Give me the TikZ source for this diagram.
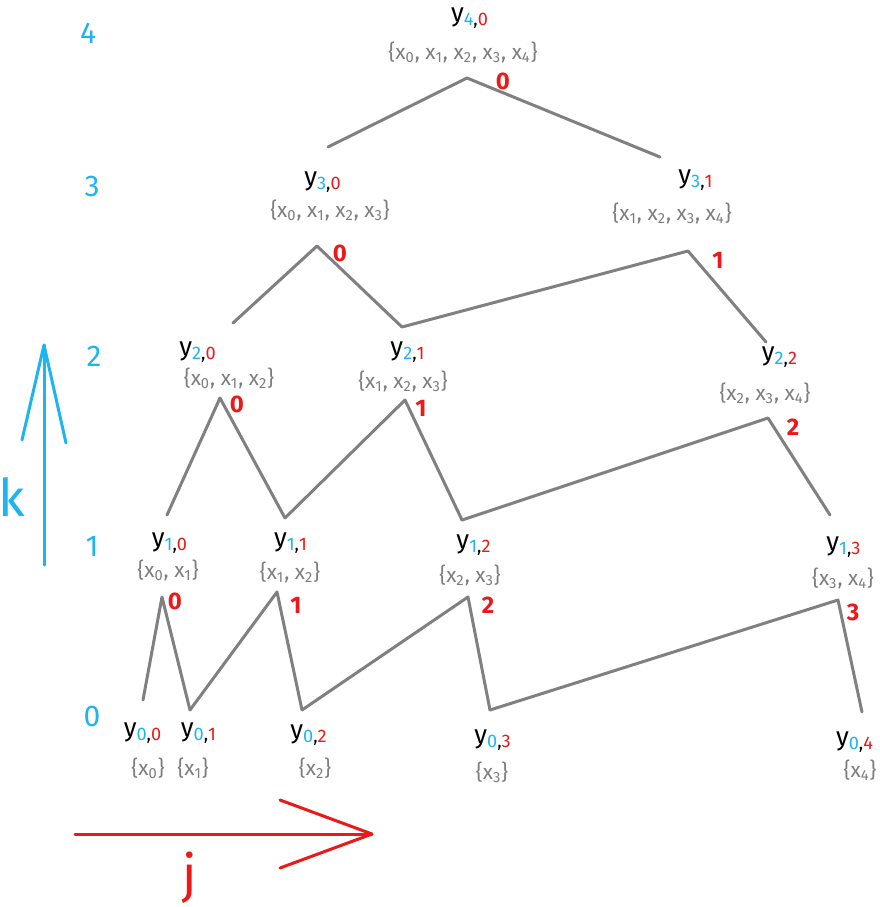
\documentclass[tikz,border=0pt]{standalone}
\usepackage{fontspec}
\setmainfont{Fira Sans}
\usetikzlibrary{calc}
\definecolor{kc}{RGB}{30,180,240}
\definecolor{jc}{RGB}{235,25,25}
\definecolor{edgec}{RGB}{128,128,128}
\definecolor{setc}{RGB}{125,125,125}
\newcommand{\ylab}[2]{y\textsubscript{\textcolor{kc}{#1},\textcolor{jc}{#2}}}
\newcommand{\xs}[1]{x\textsubscript{#1}}
\begin{document}
\begin{tikzpicture}[x=0.5pt,y=-0.5pt,
  ylabel/.style={inner sep=0pt,font=\fontsize{13}{13}\selectfont},
  setlabel/.style={inner sep=0pt,text=setc,font=\fontsize{10.5}{10.5}\selectfont},
  idx/.style={inner sep=0pt,text=jc,font=\fontsize{12}{12}\selectfont\bfseries},
  lvl/.style={inner sep=0pt,text=kc,font=\fontsize{15}{15}\selectfont},
  link/.style={draw=edgec,line width=1.5pt,line join=round,line cap=round},
  axisk/.style={draw=kc,line width=1.5pt,line cap=round,line join=round},
  axisj/.style={draw=jc,line width=1.5pt,line cap=round,line join=round},
  bigletter/.style={inner sep=0pt,font=\fontsize{26}{26}\selectfont},
]
\useasboundingbox (0,0) rectangle (880,907);

% level numbers
\node[lvl] (n4) at (88,33) {4};
\node[lvl] (n3) at (92,186) {3};
\node[lvl] (n2) at (94,356) {2};
\node[lvl] (n1) at (92,546) {1};
\node[lvl] (n0) at (92,716) {0};

% axes
\draw[axisk] (44,565) -- (44,345);
\draw[axisk] (22,440) -- (44,345) -- (66,443);
\node[bigletter,text=kc] (klab) at (12,497) {k};
\draw[axisj] (75,834) -- (372,834);
\draw[axisj] (280,800) -- (372,834) -- (280,868);
\node[bigletter,text=jc] (jlab) at (190,878) {j};

% level 0
\node[ylabel] (y00) at (143,733) {\ylab{0}{0}};
\node[ylabel] (y01) at (199,733) {\ylab{0}{1}};
\node[ylabel] (y02) at (309,735) {\ylab{0}{2}};
\node[ylabel] (y03) at (493,740) {\ylab{0}{3}};
\node[ylabel] (y04) at (855,742) {\ylab{0}{4}};
\node[setlabel] (s00) at (148,768) {\{\xs{0}\}};
\node[setlabel] (s01) at (193,768) {\{\xs{1}\}};
\node[setlabel] (s02) at (315,768) {\{\xs{2}\}};
\node[setlabel] (s03) at (492,772) {\{\xs{3}\}};
\node[setlabel] (s04) at (860,770) {\{\xs{4}\}};

% level 1
\node[ylabel] (y10) at (170,543) {\ylab{1}{0}};
\node[ylabel] (y11) at (291,543) {\ylab{1}{1}};
\node[ylabel] (y12) at (474,545) {\ylab{1}{2}};
\node[ylabel] (y13) at (844,547) {\ylab{1}{3}};
\node[setlabel] (s10) at (168,570) {\{\xs{0}, \xs{1}\}};
\node[setlabel] (s11) at (290,572) {\{\xs{1}, \xs{2}\}};
\node[setlabel] (s12) at (470,575) {\{\xs{2}, \xs{3}\}};
\node[setlabel] (s13) at (843,578) {\{\xs{3}, \xs{4}\}};

% level 2
\node[ylabel] (y20) at (198,352) {\ylab{2}{0}};
\node[ylabel] (y21) at (408,352) {\ylab{2}{1}};
\node[ylabel] (y22) at (780,357) {\ylab{2}{2}};
\node[setlabel] (s20) at (229,378) {\{\xs{0}, \xs{1}, \xs{2}\}};
\node[setlabel] (s21) at (403,381) {\{\xs{1}, \xs{2}, \xs{3}\}};
\node[setlabel] (s22) at (765,393) {\{\xs{2}, \xs{3}, \xs{4}\}};

% level 3
\node[ylabel] (y30) at (323,182) {\ylab{3}{0}};
\node[ylabel] (y31) at (696,180) {\ylab{3}{1}};
\node[setlabel] (s30) at (330,210) {\{\xs{0}, \xs{1}, \xs{2}, \xs{3}\}};
\node[setlabel] (s31) at (672,213) {\{\xs{1}, \xs{2}, \xs{3}, \xs{4}\}};

% level 4
\node[ylabel] (y40) at (470,18) {\ylab{4}{0}};
\node[setlabel] (s40) at (463,52) {\{\xs{0}, \xs{1}, \xs{2}, \xs{3}, \xs{4}\}};

% apex points
\coordinate (p40) at (467,78);
\coordinate (p30) at (317,246);
\coordinate (p31) at (688,251);
\coordinate (p20) at (220,398);
\coordinate (p21) at (405,400);
\coordinate (p22) at (768,418);
\coordinate (p10) at (162,597);
\coordinate (p11) at (277,592);
\coordinate (p12) at (468,597);
\coordinate (p13) at (838,600);

% apex labels
\node[idx] (l40) at (503,81) {0};
\node[idx] (l30) at (340,253) {0};
\node[idx] (l31) at (718,260) {1};
\node[idx] (l20) at (237,404) {0};
\node[idx] (l21) at (421,408) {1};
\node[idx] (l22) at (793,427) {2};
\node[idx] (l10) at (175,601) {0};
\node[idx] (l11) at (296,605) {1};
\node[idx] (l12) at (488,605) {2};
\node[idx] (l13) at (853,612) {3};

% connectors
\draw[link] ($(y30)+(5,-35)$) -- (p40) -- ($(y31)+(-36,-23)$);
\draw[link] ($(y20)+(35,-29)$) -- (p30) -- ($(y21)+(-6,-25)$);
\draw[link] ($(y21)+(-6,-25)$) -- (p31) -- ($(y22)+(-14,-15)$);
\draw[link] ($(y10)+(-3,-28)$) -- (p20) -- ($(y11)+(-6,-25)$);
\draw[link] ($(y11)+(-6,-25)$) -- (p21) -- ($(y12)+(-12,-25)$);
\draw[link] ($(y12)+(-12,-25)$) -- (p22) -- ($(y13)+(-14,-32)$);
\draw[link] ($(y00)+(0,-33)$) -- (p10) -- ($(y01)+(-9,-23)$);
\draw[link] ($(y01)+(-9,-23)$) -- (p11) -- ($(y02)+(-7,-25)$);
\draw[link] ($(y02)+(-7,-25)$) -- (p12) -- ($(y03)+(-3,-30)$);
\draw[link] ($(y03)+(-3,-30)$) -- (p13) -- ($(y04)+(7,-30)$);
\end{tikzpicture}
\end{document}
